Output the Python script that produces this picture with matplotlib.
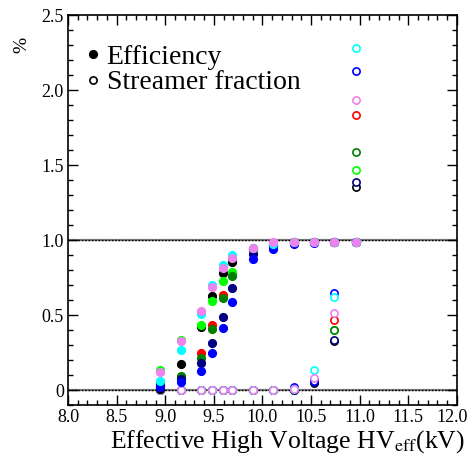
import numpy as np
import matplotlib
matplotlib.use('Agg')
import matplotlib.pyplot as plt
import matplotlib.transforms as mtransforms
from matplotlib.ticker import MultipleLocator, FuncFormatter
from matplotlib.lines import Line2D

plt.rcParams['font.family'] = ['Liberation Serif', 'DejaVu Serif']
plt.rcParams['mathtext.fontset'] = 'stix'

# effective HV points (kV)
hv = [8.95, 9.16, 9.37, 9.48, 9.59, 9.69, 9.90, 10.11, 10.32, 10.53, 10.74, 10.96]

# efficiency for each scan
eff_black  = [0.01, 0.173, 0.420, 0.630, 0.778, 0.851, 0.940, 0.970, 0.985, 0.988, 0.988, 0.990]
eff_red    = [0.03, 0.090, 0.244, 0.433, 0.633, 0.780, 0.940, 0.970, 0.985, 0.988, 0.988, 0.990]
eff_green  = [0.133, 0.335, 0.433, 0.593, 0.729, 0.789, 0.945, 0.970, 0.985, 0.988, 0.988, 0.990]
eff_dgreen = [0.04, 0.093, 0.211, 0.407, 0.611, 0.760, 0.940, 0.965, 0.985, 0.988, 0.988, 0.990]
eff_navy   = [0.033, 0.071, 0.182, 0.311, 0.484, 0.678, 0.905, 0.960, 0.980, 0.986, 0.987, 0.988]
eff_blue   = [0.02, 0.055, 0.127, 0.249, 0.413, 0.589, 0.873, 0.940, 0.971, 0.983, 0.985, 0.985]
eff_cyan   = [0.062, 0.267, 0.510, 0.700, 0.833, 0.900, 0.945, 0.975, 0.987, 0.989, 0.989, 0.990]
eff_violet = [0.122, 0.329, 0.529, 0.689, 0.816, 0.878, 0.949, 0.984, 0.989, 0.990, 0.990, 0.990]

# streamer fraction for each scan
str_black  = [0, 0, 0, 0, 0, 0, 0, 0, 0.0, 0.050, 0.330, 1.355]
str_red    = [0, 0, 0, 0, 0, 0, 0, 0, 0.0, 0.070, 0.467, 1.835]
str_green  = [0, 0, 0, 0, 0, 0, 0, 0, 0.0, 0.060, 0.400, 1.467]
str_dgreen = [0, 0, 0, 0, 0, 0, 0, 0, 0.0, 0.070, 0.400, 1.590]
str_navy   = [0, 0, 0, 0, 0, 0, 0, 0, 0.0, 0.051, 0.333, 1.385]
str_blue   = [0, 0, 0, 0, 0, 0, 0, 0, 0.022, 0.060, 0.644, 2.127]
str_cyan   = [0, 0, 0, 0, 0, 0, 0, 0, 0.005, 0.133, 0.618, 2.280]
str_violet = [0, 0, 0, 0, 0, 0, 0, 0, 0.010, 0.082, 0.511, 1.933]

colors = ['black', '#ff0000', '#00ff00', '#008000', '#000080', '#0000ff', '#00ffff', '#ee82ee']
effs = [eff_black, eff_red, eff_green, eff_dgreen, eff_navy, eff_blue, eff_cyan, eff_violet]
strs = [str_black, str_red, str_green, str_dgreen, str_navy, str_blue, str_cyan, str_violet]

fig = plt.figure(figsize=(4.71, 4.58), dpi=100)
ax = fig.add_axes([0.1444, 0.1157, 0.8256, 0.8513])

# reference lines at 0 and 1
for yv in [0, 1]:
    ax.axhline(yv, color='#808080', lw=1.6, zorder=1)
    ax.axhline(yv, color='black', lw=1.0, ls=(0, (1.2, 1.2)), zorder=1)

for c, s in zip(colors, strs):
    ax.plot(hv, s, 'o', mfc='white', mec=c, mew=1.2, ms=5.2, ls='none', zorder=3)
for c, e in zip(colors, effs):
    ax.plot(hv, e, 'o', mfc=c, mec=c, ms=5.6, ls='none', zorder=4)

ax.set_xlim(8.0, 12.0)
ax.set_ylim(-0.1, 2.5)
ax.xaxis.set_major_locator(MultipleLocator(0.5))
ax.xaxis.set_minor_locator(MultipleLocator(0.1))
ax.yaxis.set_major_locator(MultipleLocator(0.5))
ax.yaxis.set_minor_locator(MultipleLocator(0.1))
ax.xaxis.set_major_formatter(FuncFormatter(lambda v, p: '%.1f' % v))
ax.yaxis.set_major_formatter(FuncFormatter(lambda v, p: '0' if abs(v) < 1e-9 else '%.1f' % v))
ax.tick_params(which='both', direction='in', top=True, right=True, labelsize=13, width=1.0)
ax.tick_params(which='major', length=7, pad=3)
ax.tick_params(which='minor', length=3.5)
for sp in ax.spines.values():
    sp.set_linewidth(1.2)

# keep the "12.0" tick label inside the figure
fig.canvas.draw()
for tick in ax.xaxis.get_major_ticks():
    if tick.label1.get_text() == '12.0':
        lab = tick.label1
        lab.set_horizontalalignment('right')
        lab.set_transform(lab.get_transform() + mtransforms.ScaledTranslation(11 / 100, 0, fig.dpi_scale_trans))

ax.set_xlabel(r'Effective High Voltage HV$_{\rm eff}$(kV)', fontsize=18.5)
ax.xaxis.set_label_coords(1.021, -0.110)
ax.xaxis.label.set_ha('right')
ax.xaxis.label.set_va('baseline')
ax.set_ylabel('%', fontsize=14)
ax.yaxis.set_label_coords(-0.118, 0.923)
ax.yaxis.label.set_va('center')
ax.yaxis.label.set_ha('center')

handles = [Line2D([], [], marker='o', ls='none', mfc='black', mec='black', ms=5.6),
           Line2D([], [], marker='o', ls='none', mfc='white', mec='black', mew=1.2, ms=5.2)]
ax.legend(handles, ['Efficiency', 'Streamer fraction'], loc='upper left',
          bbox_to_anchor=(0.017, 0.953), frameon=False, fontsize=20,
          handlelength=0.5, handletextpad=0.25, labelspacing=0.0, borderaxespad=0)

plt.savefig('out.png', dpi=100)
